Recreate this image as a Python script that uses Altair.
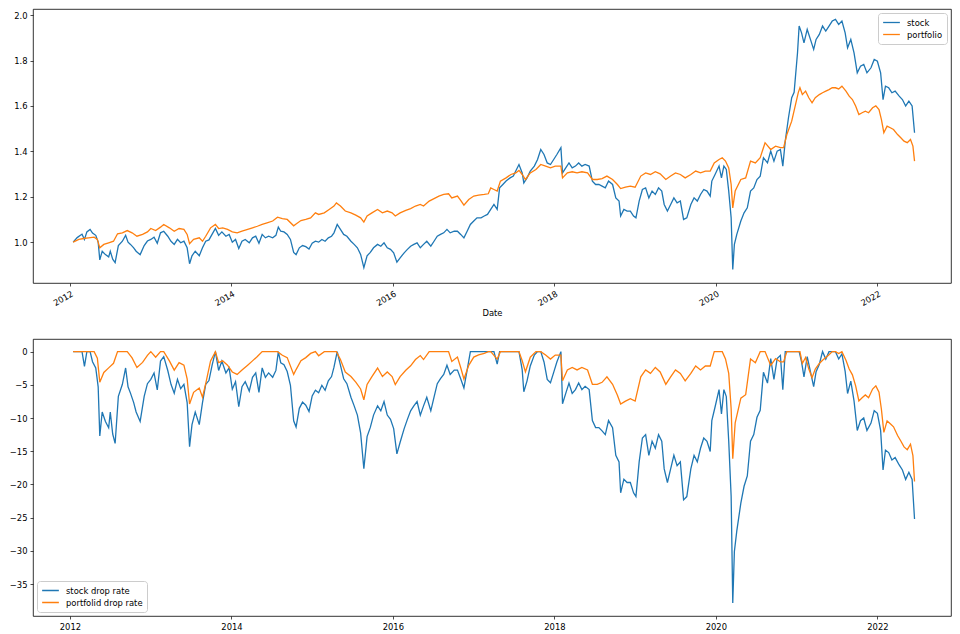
import altair as alt
import pandas as pd

# ---- data (time in decimal years) ----
stock_time = [
    2012.04, 2012.09, 2012.13, 2012.15, 2012.18, 2012.21, 2012.25, 2012.28, 2012.32, 2012.35,
    2012.37, 2012.40, 2012.44, 2012.48, 2012.50, 2012.53, 2012.56, 2012.60, 2012.65, 2012.69,
    2012.72, 2012.75, 2012.79, 2012.82, 2012.87, 2012.92, 2012.96, 2013.00, 2013.04, 2013.08,
    2013.12, 2013.16, 2013.21, 2013.25, 2013.29, 2013.33, 2013.37, 2013.41, 2013.45, 2013.48,
    2013.51, 2013.55, 2013.60, 2013.64, 2013.68, 2013.72, 2013.76, 2013.80, 2013.84, 2013.88,
    2013.93, 2013.97, 2014.01, 2014.05, 2014.09, 2014.13, 2014.17, 2014.22, 2014.26, 2014.30,
    2014.34, 2014.38, 2014.42, 2014.46, 2014.51, 2014.55, 2014.58, 2014.61, 2014.65, 2014.69,
    2014.73, 2014.77, 2014.80, 2014.84, 2014.88, 2014.92, 2014.96, 2015.00, 2015.04, 2015.08,
    2015.12, 2015.16, 2015.20, 2015.24, 2015.27, 2015.31, 2015.35, 2015.39, 2015.43, 2015.48,
    2015.52, 2015.56, 2015.60, 2015.64, 2015.68, 2015.72, 2015.76, 2015.81, 2015.85, 2015.89,
    2015.93, 2015.97, 2016.01, 2016.05, 2016.09, 2016.14, 2016.18, 2016.22, 2016.26, 2016.30,
    2016.34, 2016.38, 2016.42, 2016.47, 2016.51, 2016.55, 2016.59, 2016.63, 2016.67, 2016.71,
    2016.76, 2016.80, 2016.84, 2016.88, 2016.92, 2016.96, 2017.00, 2017.04, 2017.09, 2017.13,
    2017.17, 2017.21, 2017.25, 2017.29, 2017.32, 2017.36, 2017.40, 2017.45, 2017.49, 2017.52,
    2017.56, 2017.60, 2017.62, 2017.66, 2017.70, 2017.75, 2017.79, 2017.83, 2017.87, 2017.91,
    2017.95, 2017.99, 2018.03, 2018.08, 2018.10, 2018.14, 2018.18, 2018.22, 2018.26, 2018.30,
    2018.34, 2018.38, 2018.43, 2018.47, 2018.51, 2018.55, 2018.59, 2018.63, 2018.67, 2018.72,
    2018.76, 2018.80, 2018.82, 2018.86, 2018.90, 2018.94, 2018.98, 2019.01, 2019.05, 2019.09,
    2019.13, 2019.17, 2019.21, 2019.25, 2019.29, 2019.33, 2019.36, 2019.40, 2019.44, 2019.48,
    2019.52, 2019.56, 2019.60, 2019.64, 2019.69, 2019.73, 2019.77, 2019.81, 2019.85, 2019.89,
    2019.93, 2019.95, 2019.99, 2020.04, 2020.07, 2020.10, 2020.13, 2020.16, 2020.19, 2020.21,
    2020.23, 2020.26, 2020.31, 2020.35, 2020.39, 2020.43, 2020.47, 2020.51, 2020.55, 2020.59,
    2020.64, 2020.68, 2020.72, 2020.76, 2020.80, 2020.83, 2020.86, 2020.90, 2020.94, 2020.97,
    2021.01, 2021.03, 2021.06, 2021.09, 2021.13, 2021.17, 2021.21, 2021.24, 2021.28, 2021.32,
    2021.36, 2021.40, 2021.44, 2021.48, 2021.52, 2021.56, 2021.60, 2021.63, 2021.67, 2021.71,
    2021.75, 2021.79, 2021.83, 2021.87, 2021.92, 2021.96, 2022.00, 2022.04, 2022.07, 2022.10,
    2022.14, 2022.18, 2022.22, 2022.27, 2022.31, 2022.35, 2022.39, 2022.43, 2022.46,
]
stock_value = [
    1.000, 1.020, 1.030, 1.035, 1.012, 1.045, 1.056, 1.040, 1.030, 1.000,
    0.922, 0.960, 0.945, 0.935, 0.960, 0.925, 0.910, 0.985, 1.004, 1.030,
    1.000, 0.990, 0.975, 0.960, 0.945, 0.985, 1.005, 1.012, 1.022, 0.995,
    1.041, 1.048, 1.026, 1.004, 0.990, 1.012, 0.997, 1.004, 0.975, 0.905,
    0.940, 0.960, 0.940, 0.975, 1.004, 1.010, 1.035, 1.060, 1.030, 1.045,
    1.026, 1.034, 1.000, 1.012, 0.972, 1.004, 1.012, 0.997, 1.019, 1.026,
    0.995, 1.034, 1.019, 1.026, 1.019, 1.030, 1.066, 1.048, 1.045, 1.034,
    1.012, 0.955, 0.945, 0.975, 0.985, 0.980, 0.970, 0.995, 1.004, 1.000,
    1.012, 1.004, 1.019, 1.026, 1.041, 1.078, 1.056, 1.034, 1.026, 1.004,
    0.990, 0.975, 0.946, 0.888, 0.940, 0.955, 0.975, 0.990, 0.982, 0.997,
    0.975, 0.968, 0.953, 0.912, 0.931, 0.953, 0.968, 0.982, 0.990, 0.997,
    0.975, 0.990, 1.004, 0.982, 1.004, 1.026, 1.034, 1.041, 1.056, 1.041,
    1.048, 1.048, 1.034, 1.019, 1.048, 1.078, 1.093, 1.107, 1.107, 1.115,
    1.122, 1.144, 1.166, 1.144, 1.239, 1.254, 1.269, 1.283, 1.291, 1.313,
    1.342, 1.305, 1.261, 1.283, 1.313, 1.335, 1.364, 1.408, 1.386, 1.349,
    1.342, 1.364, 1.386, 1.416, 1.305, 1.327, 1.349, 1.327, 1.335, 1.349,
    1.335, 1.342, 1.335, 1.269, 1.254, 1.254, 1.247, 1.239, 1.269, 1.254,
    1.195, 1.181, 1.115, 1.144, 1.137, 1.137, 1.115, 1.107, 1.181, 1.232,
    1.239, 1.195, 1.225, 1.210, 1.239, 1.225, 1.166, 1.137, 1.166, 1.195,
    1.173, 1.181, 1.100, 1.107, 1.166, 1.195, 1.181, 1.210, 1.232, 1.225,
    1.203, 1.269, 1.298, 1.335, 1.283, 1.335, 1.320, 1.225, 1.107, 0.880,
    0.990, 1.034, 1.093, 1.129, 1.151, 1.225, 1.239, 1.276, 1.291, 1.372,
    1.349, 1.401, 1.357, 1.401, 1.408, 1.335, 1.445, 1.548, 1.636, 1.660,
    1.834, 1.952, 1.922, 1.878, 1.937, 1.893, 1.849, 1.893, 1.915, 1.952,
    1.930, 1.952, 1.974, 1.981, 1.959, 1.974, 1.922, 1.856, 1.893, 1.834,
    1.746, 1.775, 1.783, 1.746, 1.768, 1.805, 1.797, 1.746, 1.628, 1.687,
    1.680, 1.658, 1.665, 1.643, 1.628, 1.600, 1.621, 1.600, 1.482,
]

portfolio_time = [
    2012.04, 2012.11, 2012.17, 2012.23, 2012.30, 2012.34, 2012.37, 2012.42, 2012.48, 2012.54,
    2012.59, 2012.65, 2012.71, 2012.77, 2012.83, 2012.90, 2012.96, 2013.00, 2013.06, 2013.12,
    2013.16, 2013.23, 2013.29, 2013.35, 2013.41, 2013.45, 2013.48, 2013.53, 2013.60, 2013.64,
    2013.68, 2013.74, 2013.80, 2013.84, 2013.89, 2013.95, 2014.01, 2014.07, 2014.13, 2014.20,
    2014.26, 2014.32, 2014.38, 2014.44, 2014.51, 2014.57, 2014.63, 2014.69, 2014.77, 2014.80,
    2014.86, 2014.92, 2014.98, 2015.04, 2015.08, 2015.15, 2015.21, 2015.27, 2015.30, 2015.35,
    2015.41, 2015.48, 2015.54, 2015.60, 2015.64, 2015.68, 2015.74, 2015.81, 2015.87, 2015.93,
    2015.99, 2016.03, 2016.09, 2016.16, 2016.22, 2016.28, 2016.34, 2016.38, 2016.45, 2016.51,
    2016.57, 2016.63, 2016.69, 2016.73, 2016.80, 2016.84, 2016.88, 2016.94, 2017.00, 2017.06,
    2017.13, 2017.18, 2017.21, 2017.25, 2017.29, 2017.33, 2017.40, 2017.46, 2017.52, 2017.56,
    2017.60, 2017.64, 2017.70, 2017.77, 2017.83, 2017.89, 2017.95, 2018.01, 2018.08, 2018.10,
    2018.16, 2018.22, 2018.28, 2018.34, 2018.41, 2018.47, 2018.53, 2018.59, 2018.65, 2018.72,
    2018.78, 2018.82, 2018.88, 2018.94, 2019.00, 2019.07, 2019.13, 2019.19, 2019.25, 2019.31,
    2019.38, 2019.44, 2019.50, 2019.56, 2019.62, 2019.69, 2019.75, 2019.81, 2019.87, 2019.93,
    2019.98, 2020.04, 2020.08, 2020.12, 2020.16, 2020.19, 2020.21, 2020.24, 2020.31, 2020.37,
    2020.43, 2020.49, 2020.55, 2020.61, 2020.68, 2020.74, 2020.80, 2020.84, 2020.88, 2020.94,
    2020.99, 2021.02, 2021.04, 2021.07, 2021.11, 2021.15, 2021.19, 2021.23, 2021.28, 2021.32,
    2021.36, 2021.40, 2021.44, 2021.48, 2021.52, 2021.56, 2021.61, 2021.65, 2021.69, 2021.73,
    2021.77, 2021.81, 2021.85, 2021.89, 2021.94, 2021.98, 2022.02, 2022.05, 2022.08, 2022.12,
    2022.16, 2022.20, 2022.25, 2022.29, 2022.33, 2022.37, 2022.41, 2022.44, 2022.46,
]
portfolio_value = [
    1.000, 1.012, 1.016, 1.019, 1.022, 1.012, 0.975, 0.990, 0.997, 1.004,
    1.037, 1.041, 1.051, 1.041, 1.026, 1.034, 1.045, 1.060, 1.051, 1.066,
    1.078, 1.063, 1.048, 1.060, 1.056, 1.034, 0.993, 1.012, 1.019, 1.004,
    1.026, 1.063, 1.078, 1.060, 1.063, 1.056, 1.045, 1.041, 1.048, 1.056,
    1.063, 1.070, 1.078, 1.085, 1.093, 1.110, 1.104, 1.100, 1.072, 1.080,
    1.095, 1.100, 1.107, 1.129, 1.122, 1.129, 1.144, 1.159, 1.173, 1.159,
    1.137, 1.129, 1.119, 1.107, 1.088, 1.115, 1.129, 1.144, 1.129, 1.137,
    1.129, 1.115, 1.129, 1.140, 1.148, 1.159, 1.166, 1.159, 1.181, 1.192,
    1.203, 1.210, 1.213, 1.195, 1.203, 1.184, 1.163, 1.188, 1.203, 1.207,
    1.210, 1.213, 1.239, 1.232, 1.225, 1.269, 1.283, 1.298, 1.305, 1.316,
    1.298, 1.276, 1.305, 1.320, 1.342, 1.335, 1.327, 1.335, 1.335, 1.283,
    1.305, 1.310, 1.305, 1.310, 1.305, 1.276, 1.276, 1.280, 1.291, 1.276,
    1.254, 1.236, 1.242, 1.247, 1.242, 1.291, 1.305, 1.298, 1.310, 1.301,
    1.276, 1.291, 1.305, 1.298, 1.283, 1.298, 1.313, 1.305, 1.313, 1.313,
    1.349, 1.364, 1.372, 1.357, 1.327, 1.254, 1.151, 1.225, 1.276, 1.283,
    1.357, 1.349, 1.372, 1.438, 1.408, 1.423, 1.416, 1.416, 1.474, 1.533,
    1.610, 1.660, 1.680, 1.650, 1.665, 1.636, 1.614, 1.636, 1.650, 1.658,
    1.665, 1.672, 1.680, 1.680, 1.675, 1.687, 1.665, 1.643, 1.628, 1.600,
    1.562, 1.570, 1.577, 1.570, 1.592, 1.600, 1.584, 1.540, 1.482, 1.511,
    1.504, 1.496, 1.474, 1.460, 1.445, 1.438, 1.452, 1.423, 1.357,
]

series_names = ["stock", "portfolio"]
drop_names = ["stock drop rate", "portfolid drop rate"]
series_colors = ["#1f77b4", "#ff7f0e"]
year_ticks = [2012, 2014, 2016, 2018, 2020, 2022]
top_y_ticks = [1.0, 1.2, 1.4, 1.6, 1.8, 2.0]
bottom_y_ticks = [0, -5, -10, -15, -20, -25, -30, -35]


def to_date(y):
    yr = int(y)
    return pd.Timestamp(year=yr, month=1, day=1) + pd.Timedelta(days=(y - yr) * 365.25)


rows = []
for name, dname, ts, vs in [
    (series_names[0], drop_names[0], stock_time, stock_value),
    (series_names[1], drop_names[1], portfolio_time, portfolio_value),
]:
    for t, v in zip(ts, vs):
        rows.append({"Date": to_date(t), "value": v, "series": name, "drop_series": dname})
df = pd.DataFrame(rows)

x_domain = [alt.DateTime(year=2011, month=7, date=18), alt.DateTime(year=2022, month=11, date=30)]
x_values = [alt.DateTime(year=y, month=1, date=1) for y in year_ticks]

FONT = "DejaVu Sans"
FS = 8.4
W = 918
H_TOP, H_BOT = 274, 277
LW = 1.3

legend_common = dict(
    title=None,
    symbolType="stroke",
    symbolStrokeWidth=LW,
    symbolSize=280,
    clipHeight=11,
    labelFontSize=FS,
    labelFont=FONT,
    labelColor="#000",
    labelOffset=6,
    fillColor="white",
    strokeColor="#cccccc",
    cornerRadius=3,
    padding=4,
    rowPadding=1,
    offset=4,
)

top = alt.Chart(df).mark_line(strokeWidth=LW).encode(
    x=alt.X(
        "Date:T",
        scale=alt.Scale(domain=x_domain),
        axis=alt.Axis(
            title="Date",
            values=x_values,
            format="%Y",
            labelAngle=330,
            labelAlign="right",
            labelBaseline="top",
            titlePadding=2,
            grid=False,
        ),
    ),
    y=alt.Y(
        "value:Q",
        scale=alt.Scale(domain=[0.82, 2.027], nice=False, zero=False),
        axis=alt.Axis(title=None, values=top_y_ticks, format=".1f", grid=False),
    ),
    color=alt.Color(
        "series:N",
        scale=alt.Scale(domain=series_names, range=series_colors),
        sort=series_names,
        legend=alt.Legend(orient="top-right", **legend_common),
    ),
).properties(width=W, height=H_TOP)

bottom = alt.Chart(df).transform_window(
    peak="max(value)",
    frame=[None, 0],
    groupby=["series"],
    sort=[alt.SortField("Date")],
).transform_calculate(
    rate="(datum.value / datum.peak - 1) * 100"
).mark_line(strokeWidth=LW).encode(
    x=alt.X(
        "Date:T",
        scale=alt.Scale(domain=x_domain),
        axis=alt.Axis(title=None, values=x_values, format="%Y", labelAngle=0, grid=False),
    ),
    y=alt.Y(
        "rate:Q",
        scale=alt.Scale(domain=[-39.8, 1.9], nice=False, zero=False),
        axis=alt.Axis(title=None, values=bottom_y_ticks, format="d", grid=False),
    ),
    color=alt.Color(
        "drop_series:N",
        scale=alt.Scale(domain=drop_names, range=series_colors),
        sort=drop_names,
        legend=alt.Legend(orient="bottom-left", **legend_common),
    ),
).properties(width=W, height=H_BOT)

chart = alt.vconcat(top, bottom, spacing=20).resolve_scale(color="independent").resolve_legend(
    color="independent"
).configure(
    padding=0, background="white"
).configure_view(
    stroke="#000", strokeWidth=0.8
).configure_axis(
    domain=False,
    grid=False,
    ticks=True,
    tickColor="#000",
    tickSize=3,
    tickWidth=0.7,
    labelFont=FONT,
    labelFontSize=FS,
    labelColor="#000",
    labelPadding=3,
    titleFont=FONT,
    titleFontSize=FS,
    titleFontWeight="normal",
    titleColor="#000",
)

chart.save("out.html", embed_options={"renderer": "svg", "actions": False})
